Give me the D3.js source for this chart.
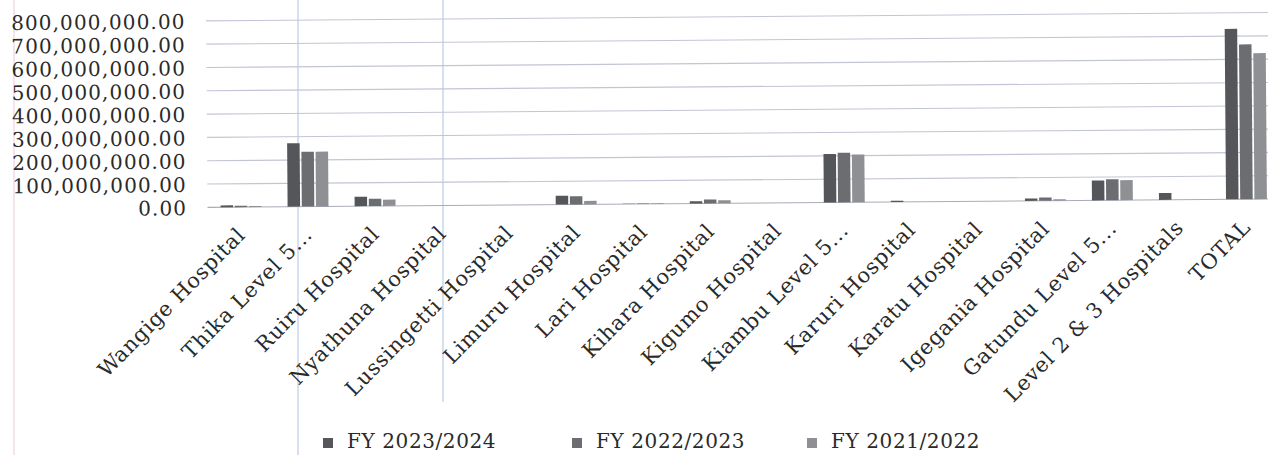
<!DOCTYPE html>
<html>
<head>
<meta charset="utf-8">
<script src="https://cdn.jsdelivr.net/npm/d3@7"></script>
<style>
  body { margin: 0; background: #fff; }
  svg { display: block; }
</style>
</head>
<body>
<div id="chart"></div>
<script>
// categories and series (values in KES)
const categories = ["Wangige Hospital", "Thika Level 5...", "Ruiru Hospital", "Nyathuna Hospital",
  "Lussingetti Hospital", "Limuru Hospital", "Lari Hospital", "Kihara Hospital", "Kigumo Hospital",
  "Kiambu Level 5...", "Karuri Hospital", "Karatu Hospital", "Igegania Hospital", "Gatundu Level 5...",
  "Level 2 & 3 Hospitals", "TOTAL"];
const seriesNames = ["FY 2023/2024", "FY 2022/2023", "FY 2021/2022"];
const fy2324 = [8e6, 272e6, 40e6, 0, 0, 38e6, 1e6, 10e6, 0, 208e6, 5e6, 0, 10e6, 85e6, 29e6, 731e6];
const fy2223 = [6e6, 235e6, 31e6, 0, 0, 35e6, 2e6, 17e6, 0, 213e6, 0, 0, 14e6, 90e6, 0, 664e6];
const fy2122 = [4e6, 235e6, 27e6, 0, 0, 15e6, 3e6, 13e6, 0, 205e6, 0, 0, 6e6, 86e6, 0, 626e6];
const yTicks = [0, 1e8, 2e8, 3e8, 4e8, 5e8, 6e8, 7e8, 8e8];
const colors = ["#555659", "#6c6d70", "#8f9093"];

const W = 1268, H = 455;
const margin = {top: 17.5, left: 207.5, bottom: 251, right: -12};

const svg = d3.select("#chart").append("svg")
  .attr("width", W).attr("height", H);

// faint ruled lines from the scanned page
svg.append("line").attr("x1", 14).attr("x2", 14).attr("y1", 0).attr("y2", H)
  .attr("stroke", "#f0dde6").attr("stroke-width", 1.5);
svg.append("line").attr("x1", 298).attr("x2", 298).attr("y1", 0).attr("y2", H)
  .attr("stroke", "#c9d6ea").attr("stroke-width", 1.5);
svg.append("line").attr("x1", 443).attr("x2", 443).attr("y1", 0).attr("y2", 402)
  .attr("stroke", "#c9d6ea").attr("stroke-width", 1.5);

// whole chart is scanned at a tiny tilt
const g = svg.append("g").attr("transform", "rotate(-0.45, 634, 204)");

const x = d3.scaleBand()
  .domain(categories)
  .range([margin.left, W - margin.right])
  .paddingInner(0.39).paddingOuter(0.195);

const xs = d3.scaleBand()
  .domain(seriesNames)
  .range([0, x.bandwidth()])
  .paddingInner(0.12);

const y = d3.scaleLinear()
  .domain([0, 8e8])
  .range([H - margin.bottom, margin.top]);

// gridlines
g.append("g").selectAll("line")
  .data(yTicks)
  .join("line")
    .attr("x1", margin.left).attr("x2", W + 20)
    .attr("y1", d => y(d)).attr("y2", d => y(d))
    .attr("stroke", d => d === 0 ? "#a9acb8" : "#c2c5d4")
    .attr("stroke-width", 1.1);

// y axis
const yAxis = g.append("g")
  .attr("transform", "translate(187,0)")
  .call(d3.axisLeft(y).tickValues(yTicks).tickSize(0).tickPadding(0)
    .tickFormat(d => d3.format(",.2f")(d)));
yAxis.select(".domain").remove();
yAxis.selectAll("text")
  .attr("font-family", "DejaVu Serif")
  .attr("font-size", 20)
  .attr("letter-spacing", 1.1)
  .attr("fill", "#2a2a2a")
  .attr("dy", "0.36em");

// bars
const series = [fy2324, fy2223, fy2122];
g.append("g").selectAll("g")
  .data(categories)
  .join("g")
    .attr("transform", d => `translate(${x(d)},0)`)
  .selectAll("rect")
  .data((d, i) => seriesNames.map((s, k) => ({s, k, v: series[k][i]})))
  .join("rect")
    .attr("x", d => xs(d.s))
    .attr("width", xs.bandwidth())
    .attr("y", d => y(d.v))
    .attr("height", d => y(0) - y(d.v))
    .attr("fill", d => colors[d.k]);

// category labels
const xAxis = g.append("g")
  .attr("transform", `translate(0,${y(0)})`)
  .call(d3.axisBottom(x).tickSize(0).tickPadding(0));
xAxis.select(".domain").remove();
xAxis.selectAll("text")
  .attr("font-family", "DejaVu Serif")
  .attr("font-size", 21)
  .attr("letter-spacing", 0.7)
  .attr("fill", "#2a2a2a")
  .attr("text-anchor", "end")
  .attr("transform", "translate(0,24) rotate(-45)")
  .attr("dy", "0.35em");

// legend
const legendX = [323, 572, 807];
const legend = svg.append("g").selectAll("g")
  .data(seriesNames)
  .join("g")
    .attr("transform", (d, i) => `translate(${legendX[i]},441)`);
legend.append("rect")
  .attr("x", 0).attr("y", -3).attr("width", 10).attr("height", 10)
  .attr("fill", (d, i) => colors[i]);
legend.append("text")
  .attr("x", 24).attr("y", 0).attr("dy", "0.36em")
  .attr("font-family", "DejaVu Serif").attr("font-size", 20)
  .attr("letter-spacing", 0.6)
  .attr("fill", "#2a2a2a")
  .text(d => d);
</script>
</body>
</html>
